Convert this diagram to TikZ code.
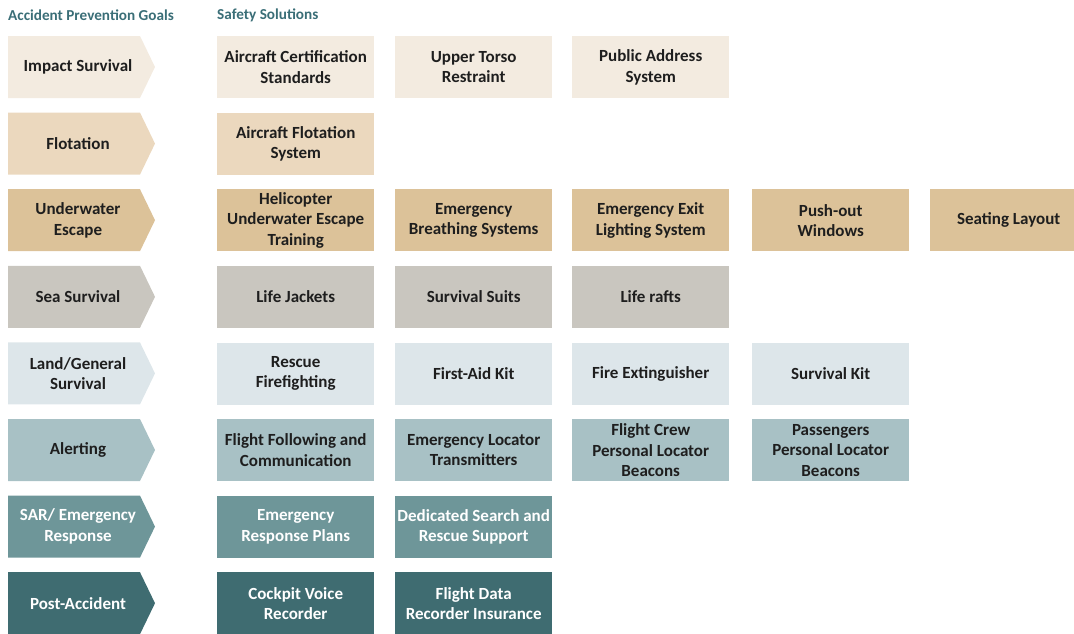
\documentclass[tikz,border=0pt]{standalone}
\usepackage{fontspec}
\setmainfont{Carlito}
\definecolor{c1}{HTML}{F3EBE0}
\definecolor{c2}{HTML}{EBD8BE}
\definecolor{c3}{HTML}{DCC299}
\definecolor{c4}{HTML}{C9C6BF}
\definecolor{c5}{HTML}{DDE6EA}
\definecolor{c6}{HTML}{A8C1C5}
\definecolor{c7}{HTML}{6E9699}
\definecolor{c8}{HTML}{3F6C71}
\definecolor{txt}{HTML}{1E1E1E}
\definecolor{hdr}{HTML}{3A6E77}
\newcommand{\chev}[2]{\fill[#1] (8,#2) -- (140,#2) -- (155,#2+31) -- (140,#2+62) -- (8,#2+62) -- cycle;}
\begin{document}
\begin{tikzpicture}[x=1pt,y=-1pt,
  lbl/.style={font=\bfseries\fontsize{17}{20.5}\selectfont, align=center, text=txt, inner sep=0pt},
  sol/.style={lbl, minimum width=157pt, minimum height=62pt, anchor=north west},
  hd/.style={font=\bfseries\fontsize{15.2}{17}\selectfont, text=hdr, anchor=west, inner sep=0pt},
  wt/.style={text=white}]
\useasboundingbox (0,0) rectangle (1074,633);
\clip (0,0) rectangle (1074,633);
% headers
\node[hd] (h1) at (8,15) {Accident Prevention Goals};
\node[hd] (h2) at (217,15) {Safety Solutions};
% chevrons
\chev{c1}{36}
\chev{c2}{112.6}
\chev{c3}{189.2}
\chev{c4}{265.8}
\chev{c5}{342.4}
\chev{c6}{419}
\chev{c7}{495.6}
\chev{c8}{572.2}
\node[lbl] (g1) at (78,67) {Impact Survival};
\node[lbl] (g2) at (78,143.6) {Flotation};
\node[lbl] (g3) at (78,220.2) {Underwater\\Escape};
\node[lbl] (g4) at (78,296.8) {Sea Survival};
\node[lbl] (g5) at (78,373.4) {Land/General\\Survival};
\node[lbl] (g6) at (78,450) {Alerting};
\node[lbl,wt] (g7) at (78,526.6) {SAR/ Emergency\\Response};
\node[lbl,wt] (g8) at (78,603.2) {Post-Accident};
% row 1
\node[sol,fill=c1] (s11) at (217,36) {Aircraft Certification\\Standards};
\node[sol,fill=c1] (s12) at (395,36) {Upper Torso\\Restraint};
\node[sol,fill=c1] (s13) at (572,36) {Public Address\\System};
% row 2
\node[sol,fill=c2] (s21) at (217,112.6) {Aircraft Flotation\\System};
% row 3
\node[sol,fill=c3] (s31) at (217,189.2) {Helicopter\\Underwater Escape\\Training};
\node[sol,fill=c3] (s32) at (395,189.2) {Emergency\\Breathing Systems};
\node[sol,fill=c3] (s33) at (572,189.2) {Emergency Exit\\Lighting System};
\node[sol,fill=c3] (s34) at (752,189.2) {Push-out\\Windows};
\node[sol,fill=c3] (s35) at (930,189.2) {Seating Layout};
% row 4
\node[sol,fill=c4] (s41) at (217,265.8) {Life Jackets};
\node[sol,fill=c4] (s42) at (395,265.8) {Survival Suits};
\node[sol,fill=c4] (s43) at (572,265.8) {Life rafts};
% row 5
\node[sol,fill=c5] (s51) at (217,342.4) {Rescue\\Firefighting};
\node[sol,fill=c5] (s52) at (395,342.4) {First-Aid Kit};
\node[sol,fill=c5] (s53) at (572,342.4) {Fire Extinguisher};
\node[sol,fill=c5] (s54) at (752,342.4) {Survival Kit};
% row 6
\node[sol,fill=c6] (s61) at (217,419) {Flight Following and\\Communication};
\node[sol,fill=c6] (s62) at (395,419) {Emergency Locator\\Transmitters};
\node[sol,fill=c6] (s63) at (572,419) {Flight Crew\\Personal Locator\\Beacons};
\node[sol,fill=c6] (s64) at (752,419) {Passengers\\Personal Locator\\Beacons};
% row 7
\node[sol,fill=c7,wt] (s71) at (217,495.6) {Emergency\\Response Plans};
\node[sol,fill=c7,wt] (s72) at (395,495.6) {Dedicated Search and\\Rescue Support};
% row 8
\node[sol,fill=c8,wt] (s81) at (217,572.2) {Cockpit Voice\\Recorder};
\node[sol,fill=c8,wt] (s82) at (395,572.2) {Flight Data\\Recorder Insurance};
\end{tikzpicture}
\end{document}
